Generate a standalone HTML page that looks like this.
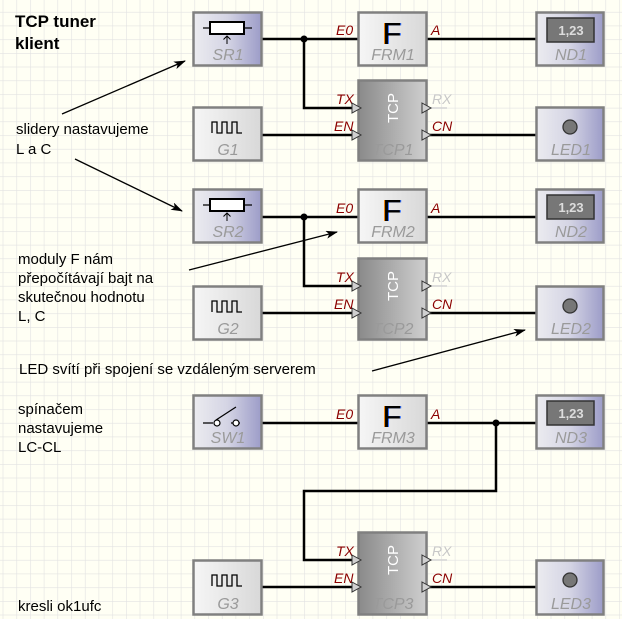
<!DOCTYPE html>
<html><head><meta charset="utf-8"><style>
html,body{margin:0;padding:0;background:#fffff4}
svg{display:block}
.t{font-family:"Liberation Sans",sans-serif;font-size:15px;fill:#000}
.lbl{font-family:"Liberation Sans",sans-serif;font-style:italic;font-size:16px;fill:#9a9a9a;text-anchor:middle}
.pin{font-family:"Liberation Sans",sans-serif;font-style:italic;font-size:14px;fill:#8b0000}
.pinr{font-family:"Liberation Sans",sans-serif;font-style:italic;font-size:14px;fill:#c8c8c8}
.w{stroke:#000;stroke-width:2.5;fill:none}
.box{stroke:#808080;stroke-width:2.5}
.F{font-family:"Liberation Sans",sans-serif;font-size:31px;text-anchor:middle}
</style></head><body>
<svg width="622" height="619" viewBox="0 0 622 619" xmlns="http://www.w3.org/2000/svg">
<defs>
<pattern id="grid" x="2.7" y="11.9" width="13.7" height="13.7" patternUnits="userSpaceOnUse">
<path d="M0 0H13.7M0 0V13.7" stroke="#e2e2e2" stroke-width="1.2" fill="none"/>
</pattern>
<linearGradient id="gb" x1="0" x2="1"><stop offset="0" stop-color="#ececf0"/><stop offset="0.5" stop-color="#d4d4e4"/><stop offset="1" stop-color="#9c9cc8"/></linearGradient>
<linearGradient id="gg" x1="0" x2="1"><stop offset="0" stop-color="#f6f6f6"/><stop offset="1" stop-color="#d8d8d8"/></linearGradient>
<linearGradient id="gt" x1="0" x2="1"><stop offset="0" stop-color="#8a8a8a"/><stop offset="1" stop-color="#cfcfcf"/></linearGradient>
<marker id="ah" markerWidth="12" markerHeight="8" refX="11" refY="4" orient="auto" markerUnits="userSpaceOnUse"><path d="M0 0L12 4L0 8L3 4Z" fill="#000"/></marker>
</defs>
<rect width="622" height="619" fill="#fffff4"/>
<rect width="622" height="619" fill="url(#grid)"/>

<text x="15" y="27" style="font-family:'Liberation Sans',sans-serif;font-weight:bold;font-size:17px">TCP tuner</text>
<text x="15" y="49" style="font-family:'Liberation Sans',sans-serif;font-weight:bold;font-size:17px">klient</text>
<text class="t" x="16" y="134">slidery nastavujeme</text>
<text class="t" x="16" y="154">L a C</text>
<text class="t" x="18" y="264">moduly F nám</text>
<text class="t" x="18" y="283">přepočítávají bajt na</text>
<text class="t" x="18" y="302">skutečnou hodnotu</text>
<text class="t" x="18" y="321">L, C</text>
<text class="t" x="19" y="374">LED svítí při spojení se vzdáleným serverem</text>
<text class="t" x="18" y="414">spínačem</text>
<text class="t" x="18" y="433">nastavujeme</text>
<text class="t" x="18" y="452">LC-CL</text>
<text class="t" x="18" y="611">kresli ok1ufc</text>

<g stroke="#000" stroke-width="1.3" marker-end="url(#ah)">
<line x1="62" y1="114" x2="185" y2="61"/>
<line x1="75" y1="159" x2="182" y2="211"/>
<line x1="189" y1="270" x2="337" y2="232"/>
<line x1="372" y1="371" x2="525" y2="330"/>
</g>

<g class="w">
<path d="M262 39H358M304 39V108H352M262 135H352M427 39H536M427 135H536"/>
<path d="M262 217H358M304 217V286H352M262 313H352M427 217H536M427 313H536"/>
<path d="M262 423H358M427 423H536M496 423V491H304V560H352M262 587H352M427 587H536"/>
</g>
<circle cx="304" cy="39" r="3.5"/><circle cx="304" cy="217" r="3.5"/><circle cx="496" cy="423" r="3.5"/>
<g stroke="#d4d4d4" stroke-width="1.5"><line x1="427" y1="108" x2="447" y2="108"/><line x1="427" y1="286" x2="447" y2="286"/><line x1="427" y1="560" x2="447" y2="560"/></g>

<g>
<rect class="box" x="193.5" y="12.5" width="68" height="53" fill="url(#gb)"/>
<path d="M203 28H252" stroke="#000" stroke-width="1.3"/>
<rect x="210" y="22" width="34" height="12" fill="#fff" stroke="#000" stroke-width="2"/>
<path d="M227 44V36M223.5 39.5L227 36L230.5 39.5" stroke="#000" stroke-width="1" fill="none"/>
<text class="lbl" x="228" y="60">SR1</text>

<rect class="box" x="358.5" y="12.5" width="68" height="53" fill="url(#gg)"/>
<text class="F" x="391" y="44" fill="#f08000">F</text>
<text class="F" x="393" y="44" fill="#3070ff">F</text>
<text class="F" x="392" y="44" fill="#000">F</text>
<text class="lbl" x="393" y="60">FRM1</text>

<rect class="box" x="536.5" y="12.5" width="67" height="53" fill="url(#gb)"/>
<rect x="547" y="18" width="47" height="24" fill="#777" stroke="#333" stroke-width="1.5"/>
<text x="571" y="35" style="font-family:'Liberation Sans',sans-serif;font-weight:bold;font-size:13px;fill:#ddd;text-anchor:middle">1,23</text>
<text class="lbl" x="571" y="60">ND1</text>

<rect class="box" x="358.5" y="80.5" width="68" height="80" fill="url(#gt)"/>
<text transform="translate(398,108) rotate(-90)" style="font-family:'Liberation Sans',sans-serif;font-size:15px;fill:#fff;text-anchor:middle">TCP</text>
<text class="lbl" x="393" y="155">TCP1</text>

<rect class="box" x="193.5" y="107.5" width="68" height="53" fill="url(#gg)"/>
<path d="M212 133V122H217V133H222V122H227V133H232V122H237V133H242" stroke="#000" stroke-width="1.3" fill="none"/>
<text class="lbl" x="228" y="155">G1</text>

<rect class="box" x="536.5" y="107.5" width="67" height="53" fill="url(#gb)"/>
<circle cx="570" cy="127" r="7" fill="#777" stroke="#333" stroke-width="1.3"/>
<text class="lbl" x="571" y="155">LED1</text>

<text class="pin" x="336" y="35">E0</text><text class="pin" x="431" y="35">A</text>
<text class="pin" x="336" y="104">TX</text><text class="pin" x="334" y="131">EN</text>
<text class="pinr" x="432" y="104">RX</text><text class="pin" x="432" y="131">CN</text>
<path d="M352 103L361 108L352 113ZM352 130L361 135L352 140ZM422 103L431 108L422 113ZM422 130L431 135L422 140Z" fill="#d0d0d0" stroke="#333" stroke-width="1"/>
</g>

<g transform="translate(0,178)">
<rect class="box" x="193.5" y="11.5" width="68" height="53" fill="url(#gb)"/>
<path d="M203 27H252" stroke="#000" stroke-width="1.3"/>
<rect x="210" y="21" width="34" height="12" fill="#fff" stroke="#000" stroke-width="2"/>
<path d="M227 43V35M223.5 38.5L227 35L230.5 38.5" stroke="#000" stroke-width="1" fill="none"/>
<text class="lbl" x="228" y="59">SR2</text>

<rect class="box" x="358.5" y="11.5" width="68" height="53" fill="url(#gg)"/>
<text class="F" x="391" y="43" fill="#f08000">F</text>
<text class="F" x="393" y="43" fill="#3070ff">F</text>
<text class="F" x="392" y="43" fill="#000">F</text>
<text class="lbl" x="393" y="59">FRM2</text>

<rect class="box" x="536.5" y="11.5" width="67" height="53" fill="url(#gb)"/>
<rect x="547" y="17" width="47" height="24" fill="#777" stroke="#333" stroke-width="1.5"/>
<text x="571" y="34" style="font-family:'Liberation Sans',sans-serif;font-weight:bold;font-size:13px;fill:#ddd;text-anchor:middle">1,23</text>
<text class="lbl" x="571" y="59">ND2</text>

<rect class="box" x="358.5" y="80.5" width="68" height="81" fill="url(#gt)"/>
<text transform="translate(398,108) rotate(-90)" style="font-family:'Liberation Sans',sans-serif;font-size:15px;fill:#fff;text-anchor:middle">TCP</text>
<text class="lbl" x="393" y="156">TCP2</text>

<rect class="box" x="193.5" y="108.5" width="68" height="53" fill="url(#gg)"/>
<path d="M212 134V123H217V134H222V123H227V134H232V123H237V134H242" stroke="#000" stroke-width="1.3" fill="none"/>
<text class="lbl" x="228" y="156">G2</text>

<rect class="box" x="536.5" y="108.5" width="67" height="53" fill="url(#gb)"/>
<circle cx="570" cy="128" r="7" fill="#777" stroke="#333" stroke-width="1.3"/>
<text class="lbl" x="571" y="156">LED2</text>

<text class="pin" x="336" y="35">E0</text><text class="pin" x="431" y="35">A</text>
<text class="pin" x="336" y="104">TX</text><text class="pin" x="334" y="131">EN</text>
<text class="pinr" x="432" y="104">RX</text><text class="pin" x="432" y="131">CN</text>
<path d="M352 103L361 108L352 113ZM352 130L361 135L352 140ZM422 103L431 108L422 113ZM422 130L431 135L422 140Z" fill="#d0d0d0" stroke="#333" stroke-width="1"/>
</g>

<g transform="translate(0,384)">
<rect class="box" x="193.5" y="11.5" width="68" height="53" fill="url(#gb)"/>
<path d="M203 39H213M231 39H240M216 36L236 23" stroke="#000" stroke-width="1.2" fill="none"/>
<circle cx="217" cy="39" r="3" fill="#fff" stroke="#000" stroke-width="1.2"/>
<circle cx="236" cy="39" r="3" fill="#fff" stroke="#000" stroke-width="1.2"/>
<text class="lbl" x="228" y="59">SW1</text>

<rect class="box" x="358.5" y="11.5" width="68" height="53" fill="url(#gg)"/>
<text class="F" x="391" y="43" fill="#f08000">F</text>
<text class="F" x="393" y="43" fill="#3070ff">F</text>
<text class="F" x="392" y="43" fill="#000">F</text>
<text class="lbl" x="393" y="59">FRM3</text>

<rect class="box" x="536.5" y="11.5" width="67" height="53" fill="url(#gb)"/>
<rect x="547" y="17" width="47" height="24" fill="#777" stroke="#333" stroke-width="1.5"/>
<text x="571" y="34" style="font-family:'Liberation Sans',sans-serif;font-weight:bold;font-size:13px;fill:#ddd;text-anchor:middle">1,23</text>
<text class="lbl" x="571" y="59">ND3</text>
<text class="pin" x="336" y="35">E0</text><text class="pin" x="431" y="35">A</text>
</g>

<g transform="translate(0,452)">
<rect class="box" x="358.5" y="80.5" width="68" height="82" fill="url(#gt)"/>
<text transform="translate(398,108) rotate(-90)" style="font-family:'Liberation Sans',sans-serif;font-size:15px;fill:#fff;text-anchor:middle">TCP</text>
<text class="lbl" x="393" y="157">TCP3</text>

<rect class="box" x="193.5" y="108.5" width="68" height="54" fill="url(#gg)"/>
<path d="M212 134V123H217V134H222V123H227V134H232V123H237V134H242" stroke="#000" stroke-width="1.3" fill="none"/>
<text class="lbl" x="228" y="157">G3</text>

<rect class="box" x="536.5" y="108.5" width="67" height="54" fill="url(#gb)"/>
<circle cx="570" cy="128" r="7" fill="#777" stroke="#333" stroke-width="1.3"/>
<text class="lbl" x="571" y="157">LED3</text>

<text class="pin" x="336" y="104">TX</text><text class="pin" x="334" y="131">EN</text>
<text class="pinr" x="432" y="104">RX</text><text class="pin" x="432" y="131">CN</text>
<path d="M352 103L361 108L352 113ZM352 130L361 135L352 140ZM422 103L431 108L422 113ZM422 130L431 135L422 140Z" fill="#d0d0d0" stroke="#333" stroke-width="1"/>
</g>
</svg>
</body></html>
